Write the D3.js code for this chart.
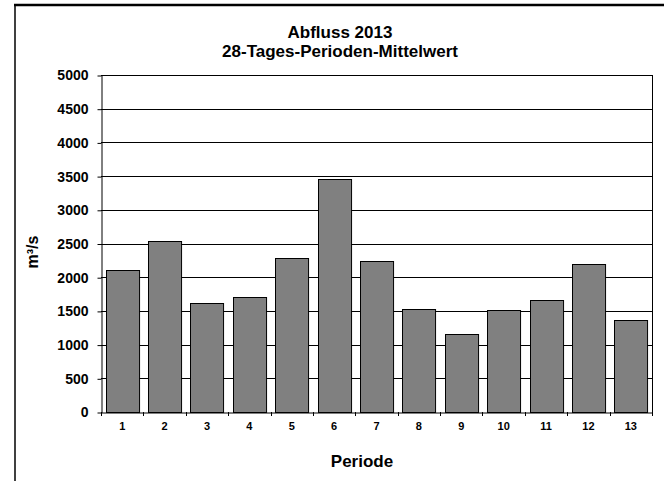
<!DOCTYPE html>
<html>
<head>
<meta charset="utf-8">
<script src="https://cdn.jsdelivr.net/npm/d3@7"></script>
<style>
  body { margin: 0; background: #fff; }
  text { font-family: Arial, "Liberation Sans", sans-serif; font-weight: bold; fill: #000; }
</style>
</head>
<body>
<div id="graph"></div>
<script>
// Data
const perioden = ['1', '2', '3', '4', '5', '6', '7', '8', '9', '10', '11', '12', '13'];
const abfluss = [2112, 2542, 1613, 1702, 2290, 3453, 2236, 1528, 1157, 1513, 1667, 2191, 1360];
const yTicks = [0, 500, 1000, 1500, 2000, 2500, 3000, 3500, 4000, 4500, 5000];
const titleLines = ['Abfluss 2013', '28-Tages-Perioden-Mittelwert'];

drawChart();

function drawChart() {
  // svg size
  const w = 664;
  const h = 481;

  // plot area
  const left = 101, right = 652, top = 75, bottom = 412;

  const svg = d3.select('#graph')
    .append('svg')
    .attr('width', w)
    .attr('height', h);

  // outer frame (top and left edges only)
  svg.append('line')
    .attr('x1', 14).attr('x2', w).attr('y1', 5).attr('y2', 5)
    .attr('stroke', '#000').attr('stroke-width', 2.5);
  svg.append('line')
    .attr('x1', 15).attr('x2', 15).attr('y1', 4).attr('y2', h)
    .attr('stroke', '#000').attr('stroke-width', 1.5);

  // Scales
  const xScale = d3.scaleBand()
    .domain(perioden)
    .range([left, right])
    .paddingInner(0.22)
    .paddingOuter(0.11);

  const yScale = d3.scaleLinear()
    .domain([0, 5000])
    .range([bottom, top]);

  // gridlines
  svg.append('g')
    .selectAll('line')
    .data(yTicks.filter(d => d > 0))
    .enter()
    .append('line')
    .attr('x1', left).attr('x2', right)
    .attr('y1', d => Math.round(yScale(d)) + 0.5)
    .attr('y2', d => Math.round(yScale(d)) + 0.5)
    .attr('stroke', '#000');

  // right border of plot area
  svg.append('line')
    .attr('x1', right + 0.5).attr('x2', right + 0.5)
    .attr('y1', top).attr('y2', bottom)
    .attr('stroke', '#000');

  // bars
  svg.selectAll('rect.bar')
    .data(abfluss)
    .enter()
    .append('rect')
    .attr('class', 'bar')
    .attr('x', (d, i) => Math.round(xScale(perioden[i])) + 0.5)
    .attr('y', d => Math.round(yScale(d)) + 0.5)
    .attr('width', xScale.bandwidth())
    .attr('height', d => Math.round(yScale(0)) - Math.round(yScale(d)))
    .attr('fill', '#808080')
    .attr('stroke', '#000')
    .attr('stroke-width', 1);

  // y axis
  const yAxis = d3.axisLeft(yScale)
    .tickValues(yTicks)
    .tickFormat(d3.format('d'))
    .tickSize(4)
    .tickPadding(9)
    .tickSizeOuter(0);

  const gy = svg.append('g')
    .attr('transform', 'translate(' + (left + 0.5) + ',0.5)')
    .call(yAxis);
  gy.selectAll('text').style('font-size', '14px');
  gy.selectAll('line, path').attr('stroke', '#000');

  // x axis: labels at band centres, ticks at band borders
  const xAxis = d3.axisBottom(xScale).tickSize(0).tickPadding(10).tickSizeOuter(0);
  const gx = svg.append('g')
    .attr('transform', 'translate(0,' + (bottom + 0.5) + ')')
    .call(xAxis);
  gx.selectAll('text').style('font-size', '11px');
  gx.select('path').attr('stroke', '#000');

  const step = xScale.step();
  svg.append('g')
    .selectAll('line')
    .data(d3.range(perioden.length + 1))
    .enter()
    .append('line')
    .attr('x1', i => Math.round(left + i * step) + 0.5)
    .attr('x2', i => Math.round(left + i * step) + 0.5)
    .attr('y1', bottom)
    .attr('y2', bottom + 4)
    .attr('stroke', '#000');

  // title
  svg.append('g')
    .selectAll('text')
    .data(titleLines)
    .enter()
    .append('text')
    .attr('x', 340)
    .attr('y', (d, i) => 38 + i * 19)
    .attr('text-anchor', 'middle')
    .style('font-size', '17px')
    .text(d => d);

  // axis titles
  svg.append('text')
    .attr('x', 362)
    .attr('y', 467)
    .attr('text-anchor', 'middle')
    .style('font-size', '17px')
    .text('Periode');

  svg.append('text')
    .attr('transform', 'translate(38,252) rotate(-90)')
    .attr('text-anchor', 'middle')
    .style('font-size', '16px')
    .text('m³/s');
}
</script>
</body>
</html>
